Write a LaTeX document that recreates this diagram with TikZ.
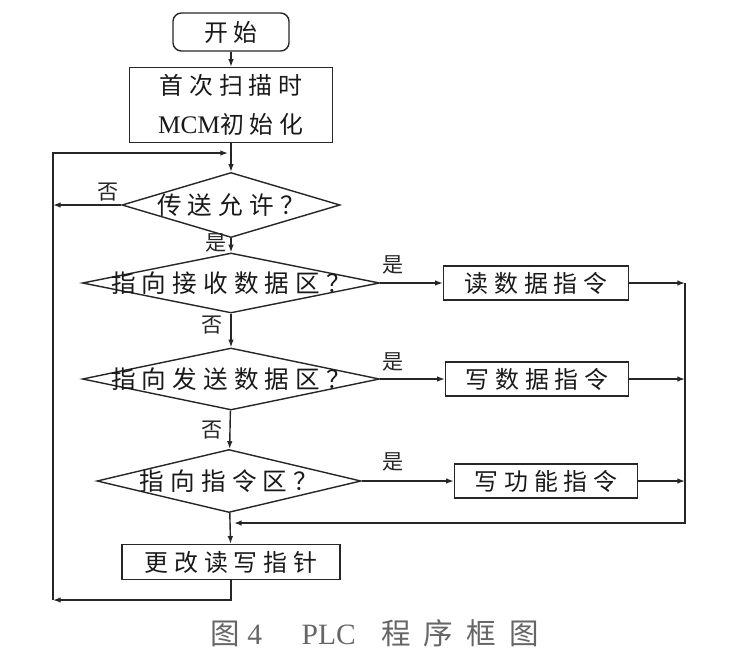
\documentclass[tikz,border=0pt]{standalone}
\usepackage{fontspec}
\setmainfont{Liberation Serif}
\newfontfamily\cjk{Noto Sans CJK SC}[LetterSpace=25]
\newfontfamily\cjklab{Noto Sans CJK SC}
\newfontfamily\cjkcap{Noto Sans CJK SC}[LetterSpace=45]
\usetikzlibrary{shapes.geometric,arrows.meta}
\begin{document}
\begin{tikzpicture}[x=0.025cm,y=-0.025cm,
  line/.style={draw=black!85, line width=1pt},
  arr/.style={line, -{Latex[length=5.5pt,width=4pt]}},
  box/.style={draw=black!85, line width=1pt, rectangle, inner sep=0pt,
    font=\cjk\fontsize{17}{28}\selectfont, text=black!90},
  dia/.style={diamond, draw=black!85, line width=1pt, inner sep=0pt},
  dtxt/.style={font=\cjk\fontsize{17.5}{20}\selectfont, text=black!90, inner sep=0pt},
  lab/.style={font=\cjklab\fontsize{15}{17}\selectfont, text=black!85, inner sep=0pt},
  captext/.style={font=\fontsize{21}{24}\selectfont, text=black!60, inner sep=0pt}]
\useasboundingbox (0,0) rectangle (736,671);

% main column
\node[box, rounded corners=6pt, minimum width=2.9cm, minimum height=0.95cm] (start) at (231,32) {开始};
\node[box, minimum width=5.075cm, minimum height=1.875cm, align=center] (init) at (231,105) {首次扫描时\\{\rmfamily\fontsize{18}{28}\selectfont MCM}初始化};
\node[dia, minimum width=5.45cm, minimum height=1.625cm] (d1) at (231,205) {};
\node[dtxt] (t1) at (d1) {传送允许？};
\node[dia, minimum width=7.425cm, minimum height=1.5cm] (d2) at (231,283) {};
\node[dtxt] (t2) at (d2) {指向接收数据区？};
\node[dia, minimum width=7.425cm, minimum height=1.55cm] (d3) at (231,379) {};
\node[dtxt] (t3) at (d3) {指向发送数据区？};
\node[dia, minimum width=6.6cm, minimum height=1.575cm] (d4) at (229,481) {};
\node[dtxt] (t4) at (d4) {指向指令区？};
\node[box, minimum width=5.45cm, minimum height=0.875cm] (chg) at (231,562) {更改读写指针};

% right column
\node[box, minimum width=4.625cm, minimum height=0.85cm] (r1) at (536,283) {读数据指令};
\node[box, minimum width=4.575cm, minimum height=0.85cm] (r2) at (537,379) {写数据指令};
\node[box, minimum width=4.575cm, minimum height=0.85cm] (r3) at (546,481) {写功能指令};

% helper coordinates
\coordinate (rline) at (685,523);
\coordinate (merge2) at (234,523);
\coordinate (lb) at (53,600);
\coordinate (lt) at (53,153);
\coordinate (merge1) at (228,153);

% connectors
\draw[arr] (start) -- (init);
\draw[arr] (init) -- (d1);
\draw[arr] (d1) -- (d2);
\draw[arr] (d2) -- (d3);
\draw[arr] (d3) -- (d4);
\draw[arr] (d4) -- (chg);
\draw[arr] (d2) -- (r1);
\draw[arr] (d3) -- (r2);
\draw[arr] (d4) -- (r3);
\draw[arr] (r1) -- (r1.east -| rline);
\draw[arr] (r2) -- (r2.east -| rline);
\draw[arr] (r3) -- (r3.east -| rline);
\draw[arr] (r1.east -| rline) -- (rline) -- (merge2);
\draw[arr] (chg) |- (lb);
\draw[arr] (lb) -- (lt) -- (merge1);
\draw[arr] (d1) -- (d1 -| lb);

% labels
\node[lab] (n1) at (108,192) {否};
\node[lab] (y1) at (216,243) {是};
\node[lab] (n2) at (212,325) {否};
\node[lab] (n3) at (212,430) {否};
\node[lab] (y2) at (393,265) {是};
\node[lab] (y3) at (393,362) {是};
\node[lab] (y4) at (393,462) {是};

% caption
\node[captext] (caption) at (375,633) {{\cjkcap 图}\hspace{5pt}4\hspace{28pt}PLC\hspace{18pt}{\cjkcap 程序框图}};
\end{tikzpicture}
\end{document}
